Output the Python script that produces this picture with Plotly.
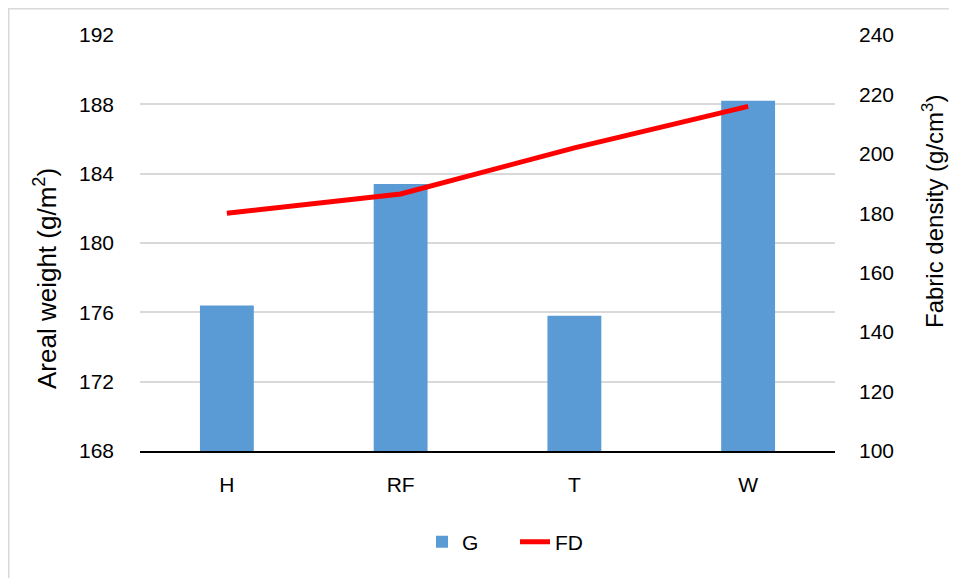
import plotly.graph_objects as go

categories = ["H", "RF", "T", "W"]
areal_weight = [176.4, 183.4, 175.8, 188.2]
fabric_density = [180, 186.5, 202, 216]
left_ticks = [168, 172, 176, 180, 184, 188, 192]
right_ticks = [100, 120, 140, 160, 180, 200, 220, 240]

FONT = "Liberation Sans, Arial, sans-serif"
# page body has an 8px default margin: compensate so the chart lines up
OFF = 8
W, H = 957 - OFF, 578 - OFF
L, T = 140 - OFF, 35 - OFF
R = W - (835 - OFF)
B = H - (451 - OFF)
plot_w = W - L - R
plot_h = H - T - B


def px_x(sx):
    return (sx - 140) / plot_w


def px_y(sy):
    return (451 - sy) / plot_h


fig = go.Figure()
fig.add_trace(go.Bar(
    x=categories, y=areal_weight, name="G",
    marker=dict(color="#5B9BD5", line=dict(width=0)),
    width=0.31, yaxis="y",
))
fig.add_trace(go.Scatter(
    x=categories, y=fabric_density, name="FD", mode="lines",
    line=dict(color="#FF0000", width=5), yaxis="y2",
))

fig.update_layout(
    width=W, height=H,
    margin=dict(l=L, r=R, t=T, b=B, pad=0),
    paper_bgcolor="white", plot_bgcolor="white",
    font=dict(family=FONT, size=21, color="#000000"),
    xaxis=dict(
        showline=True, linecolor="#000000", linewidth=1.5,
        showgrid=False, ticks="", tickfont=dict(size=21),
        ticklabelstandoff=14,
    ),
    yaxis=dict(
        range=[168, 192], tickvals=left_ticks,
        showgrid=True, gridcolor="#D9D9D9", gridwidth=1.5,
        zeroline=False, showline=False, ticks="",
        ticklabelstandoff=25, tickfont=dict(size=21),
    ),
    yaxis2=dict(
        range=[100, 240], tickvals=right_ticks,
        overlaying="y", side="right",
        showgrid=False, zeroline=False, showline=False, ticks="",
        ticklabelstandoff=23, tickfont=dict(size=21),
    ),
    legend=dict(
        orientation="h", x=px_x(422), xanchor="left", y=px_y(542), yanchor="middle",
        font=dict(size=21), traceorder="normal", entrywidth=48,
    ),
    annotations=[
        dict(text="Areal weight (g/m<sup>2</sup>)", textangle=-90, showarrow=False,
             xref="paper", yref="paper", x=px_x(45), y=px_y(278),
             xanchor="center", yanchor="middle", font=dict(size=26)),
        dict(text="Fabric density (g/cm<sup>3</sup>)", textangle=-90, showarrow=False,
             xref="paper", yref="paper", x=px_x(933), y=px_y(212),
             xanchor="center", yanchor="middle", font=dict(size=24)),
    ],
    shapes=[
        dict(type="rect", xref="paper", yref="paper",
             x0=px_x(OFF + 0.75), x1=1.4, y0=-0.6, y1=px_y(OFF + 0.75),
             line=dict(color="#D9D9D9", width=1.5), fillcolor="rgba(0,0,0,0)", layer="below"),
    ],
)

fig.write_html("out.html")
